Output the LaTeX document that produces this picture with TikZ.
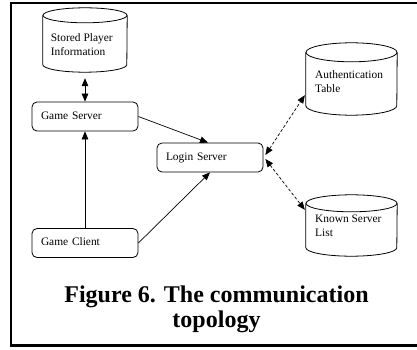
\documentclass[tikz,border=0pt]{standalone}
\usepackage{fontspec}
\setmainfont{Liberation Serif}
\usetikzlibrary{arrows.meta,calc}

% Outline of a database drum drawn over an invisible rectangular node
\newcommand{\drumoutline}[3]{%
  \draw[drumline] ([yshift=-#3]#1.north west) -- ([yshift=#3]#1.south west)
    arc[start angle=180,end angle=360,x radius=#2,y radius=#3]
    -- ([yshift=-#3]#1.north east);
  \draw[drumline] ([yshift=-#3]#1.north) ellipse[x radius=#2,y radius=#3];
}

\tikzset{
  x=1pt, y=-1pt,
  drumline/.style={line width=0.8pt},
  drum/.style={rectangle, inner sep=0pt, minimum width=#1},
  drumtext/.style={anchor=west, align=left, inner sep=0pt,
    font=\fontsize{11.4}{14}\selectfont},
  procbox/.style={draw, line width=0.8pt, rounded corners=5pt,
    minimum width=106pt, minimum height=29pt, inner sep=0pt,
    text width=88pt, align=left, text height=8pt, text depth=3pt,
    font=\fontsize{11.4}{14}\selectfont},
  link/.style={line width=0.7pt, -{Triangle[length=8pt,width=6.5pt]}},
  dlink/.style={line width=0.7pt, {Triangle[length=8pt,width=6.5pt]}-{Triangle[length=8pt,width=6.5pt]}},
  dashlink/.style={dlink, dash pattern=on 3pt off 2pt},
  caption/.style={align=center, inner sep=0pt,
    font=\bfseries\fontsize{24}{25}\selectfont},
}

\begin{document}
\begin{tikzpicture}
\useasboundingbox (0,0) rectangle (417,350);

% open frame, its right side lies past the page edge
\draw[line width=2.8pt] (420,3) -- (11,3) -- (11,345.5) -- (420,345.5);

% data stores
\node[drum=84pt, minimum height=64pt] (spi) at (85,40) {};
\drumoutline{spi}{42pt}{7.5pt}
\node[drumtext] (spitext) at (50.7,45) {Stored Player\\Information};

\node[drum=91pt, minimum height=72pt] (auth) at (351.5,79) {};
\drumoutline{auth}{45.5pt}{9.5pt}
\node[drumtext] (authtext) at (315,82) {Authentication\\Table};

\node[drum=91pt, minimum height=61pt] (known) at (351.5,225.5) {};
\drumoutline{known}{45.5pt}{8.5pt}
\node[drumtext] (knowntext) at (315,225.5) {Known Server\\List};

% processes
\node[procbox] (gs) at (85,116.5) {Game Server};
\node[procbox] (login) at (210,157.5) {Login Server};
\node[procbox] (gc) at (85,243) {Game Client};

% connections
\draw[dlink, shorten <=6pt] (spi.south) -- (gs.north);
\draw[link] (gs.east) -- ([xshift=-2pt]login.north);
\draw[link] (gc.east) -- (login.south);
\draw[link] (gc.north) -- (gs.south);
\draw[dashlink] ($(login.east)+(2,-2.5)$) -- ($(auth.south west)+(-1,-20)$);
\draw[dashlink] ($(login.east)+(2,1.5)$) -- ($(known.north west)+(-1,15)$);

% caption
\node[caption] (cap) at (216.5,309) {Figure 6. The communication\\topology};
\end{tikzpicture}
\end{document}
